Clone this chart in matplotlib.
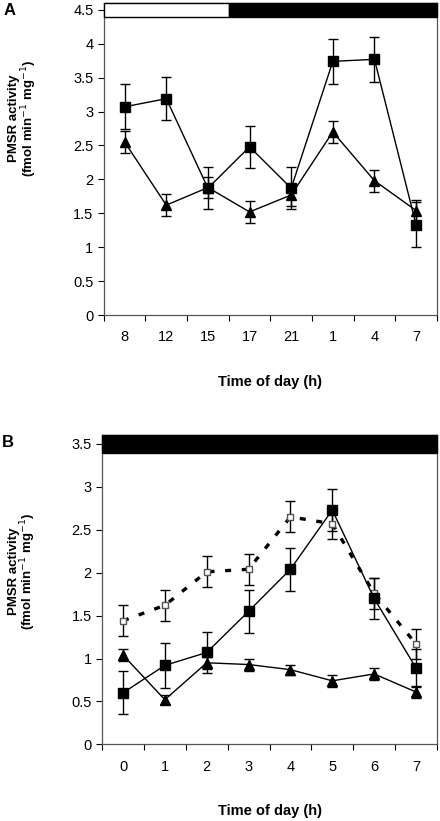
import numpy as np
import matplotlib
matplotlib.use("Agg")
import matplotlib.pyplot as plt
from matplotlib.patches import Rectangle

plt.rcParams['font.family'] = ['Liberation Sans', 'DejaVu Sans']

# Panel A data
a_labels = ['8', '12', '15', '17', '21', '1', '4', '7']
a_sq = [3.07, 3.19, 1.87, 2.48, 1.87, 3.74, 3.77, 1.33]
a_sq_err = [0.33, 0.32, 0.31, 0.31, 0.31, 0.33, 0.33, 0.33]
a_tri = [2.55, 1.62, 1.88, 1.52, 1.77, 2.70, 1.98, 1.54]
a_tri_err = [0.16, 0.16, 0.16, 0.16, 0.16, 0.16, 0.16, 0.15]

# Panel B data
b_labels = ['0', '1', '2', '3', '4', '5', '6', '7']
b_open = [1.44, 1.62, 2.01, 2.04, 2.65, 2.57, 1.76, 1.17]
b_open_err = [0.18, 0.18, 0.18, 0.18, 0.18, 0.18, 0.18, 0.17]
b_sq = [0.60, 0.92, 1.07, 1.55, 2.04, 2.73, 1.70, 0.89]
b_sq_err = [0.25, 0.26, 0.24, 0.25, 0.25, 0.24, 0.24, 0.22]
b_tri = [1.04, 0.52, 0.95, 0.93, 0.87, 0.74, 0.82, 0.61]
b_tri_err = [0.07, 0.05, 0.07, 0.07, 0.06, 0.07, 0.07, 0.07]

fig = plt.figure(figsize=(4.4, 8.21), dpi=100)
axA = fig.add_axes([0.236, 0.6163, 0.757, 0.380])
axB = fig.add_axes([0.232, 0.0934, 0.761, 0.3763])

ekw = dict(ecolor='black', elinewidth=1.0, capsize=3.6, capthick=1.0)


def style(ax, labels, ymax, top):
    n = len(labels)
    x = np.arange(n)
    ax.set_xlim(-0.5, n - 0.5)
    ax.set_ylim(0, ymax)
    ax.set_xticks(np.arange(-0.5, n, 1.0))
    ax.set_xticklabels([])
    ax.set_xticks(x, minor=True)
    ax.set_xticklabels(labels, minor=True)
    ax.tick_params(axis='x', which='major', direction='out', length=4, width=0.8)
    ax.tick_params(axis='x', which='minor', length=0, pad=11, labelsize=10.5)
    ax.set_yticks(np.arange(0, top + 0.01, 0.5))
    ax.set_yticklabels([('%g' % v) for v in np.arange(0, top + 0.01, 0.5)])
    ax.tick_params(axis='y', direction='out', length=4, width=0.8, labelsize=10.5)
    for s in ax.spines.values():
        s.set_linewidth(0.9)
        s.set_color('#555555')
    ax.set_xlabel('Time of day (h)', fontsize=10.5, fontweight='bold', labelpad=22)
    ax.set_ylabel('PMSR activity\n(fmol min$^{-1}$ mg$^{-1}$)', fontsize=9.5,
                  fontweight='bold', linespacing=0.95)
    return x


# Panel A
x = style(axA, a_labels, 4.6, 4.5)
axA.errorbar(x, a_sq, yerr=a_sq_err, fmt='-s', color='black', lw=1.0,
             ms=6.5, mfc='black', mec='black', zorder=3, **ekw)
axA.errorbar(x, a_tri, yerr=a_tri_err, fmt='-^', color='black', lw=1.0,
             ms=7, mfc='black', mec='black', zorder=3, **ekw)
axA.add_patch(Rectangle((-0.5, 4.4), 3.0, 0.2, facecolor='white',
                        edgecolor='black', lw=1.0, zorder=4, clip_on=False))
axA.add_patch(Rectangle((2.5, 4.4), 5.0, 0.2, facecolor='black',
                        edgecolor='black', lw=1.0, zorder=4, clip_on=False))
axA.yaxis.set_label_coords(-0.195, 0.63)
axA.text(-0.3, 1.0, 'A', transform=axA.transAxes, fontsize=12,
         fontweight='bold', va='top', ha='left')

# Panel B
x = style(axB, b_labels, 3.6, 3.5)
axB.errorbar(x, b_open, yerr=b_open_err, fmt='s', color='black',
             ms=5, mfc='white', mec='#555555', mew=1.0, zorder=3, **ekw)
axB.plot(x, b_open, color='black', lw=2.4, ls=(0, (1.8, 3.2)), zorder=2)
axB.errorbar(x, b_sq, yerr=b_sq_err, fmt='-s', color='black', lw=1.0,
             ms=6.5, mfc='black', mec='black', zorder=3, **ekw)
axB.errorbar(x, b_tri, yerr=b_tri_err, fmt='-^', color='black', lw=1.0,
             ms=7, mfc='black', mec='black', zorder=3, **ekw)
axB.add_patch(Rectangle((-0.5, 3.4), 8.0, 0.2, facecolor='black',
                        edgecolor='black', lw=1.0, zorder=4, clip_on=False))
axB.yaxis.set_label_coords(-0.19, 0.56)
axB.text(-0.3, 1.0, 'B', transform=axB.transAxes, fontsize=12,
         fontweight='bold', va='top', ha='left')

fig.savefig('out.png', dpi=100)
